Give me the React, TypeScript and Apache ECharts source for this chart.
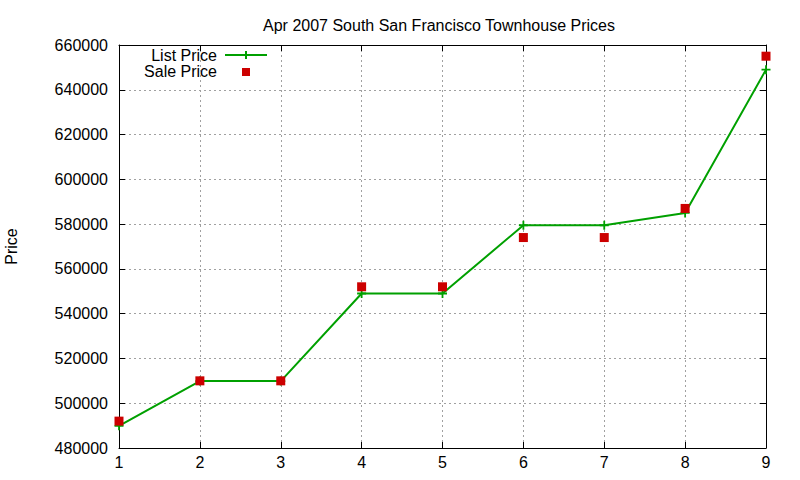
import { useEffect, useRef } from 'react';
import * as echarts from 'echarts';

// data
const houses = [1, 2, 3, 4, 5, 6, 7, 8, 9];
const listPrice = [489900, 509900, 509900, 549000, 549000, 579500, 579500, 585000, 649000];
const salePrice = [492000, 510000, 510000, 552000, 552000, 574000, 574000, 587000, 655000];

const TITLE = 'Apr 2007 South San Francisco Townhouse Prices';
const FONT = '"Liberation Sans", Arial, sans-serif';
const GREEN = '#00a000';
const RED = '#cc0000';

const PLUS = 'path://M4,0h2v4h4v2h-4v4h-2v-4h-4v-2h4z';

const gridLine = { show: true, lineStyle: { color: '#a0a0a0', type: [2, 3], width: 1 } };
const border = { show: true, onZero: false, lineStyle: { color: '#000', width: 1 } };
const ticksIn = { show: true, inside: true, length: 6, lineStyle: { color: '#000' } };

export default function App() {
  const chartRef = useRef<HTMLDivElement>(null);

  useEffect(() => {
    if (!chartRef.current) return;
    const chart = echarts.init(chartRef.current, null, { renderer: 'svg' });

    chart.setOption({
      animation: false,
      backgroundColor: '#fff',
      textStyle: { fontFamily: FONT },
      title: {
        text: TITLE,
        left: 434,
        top: 12,
        textAlign: 'center',
        textStyle: { fontSize: 16, fontWeight: 'normal', color: '#000', fontFamily: FONT },
      },
      grid: { left: 119, right: 34, top: 45, bottom: 32, outerBoundsMode: 'none' },
      xAxis: [
        {
          type: 'value',
          min: 1,
          max: 9,
          interval: 1,
          axisLine: border,
          axisTick: ticksIn,
          splitLine: gridLine,
          axisLabel: { color: '#000', fontSize: 16, margin: 6, fontFamily: FONT },
        },
        {
          type: 'value',
          position: 'top',
          min: 1,
          max: 9,
          interval: 1,
          axisLine: border,
          axisTick: ticksIn,
          splitLine: { show: false },
          axisLabel: { show: false },
        },
      ],
      yAxis: [
        {
          type: 'value',
          min: 480000,
          max: 660000,
          interval: 20000,
          name: 'Price',
          nameLocation: 'middle',
          nameGap: 100,
          nameTextStyle: { color: '#000', fontSize: 16, fontFamily: FONT },
          axisLine: border,
          axisTick: ticksIn,
          splitLine: gridLine,
          axisLabel: {
            color: '#000',
            fontSize: 16,
            margin: 11,
            fontFamily: FONT,
            formatter: (v: number) => String(v),
          },
        },
        {
          type: 'value',
          position: 'right',
          min: 480000,
          max: 660000,
          interval: 20000,
          axisLine: border,
          axisTick: ticksIn,
          splitLine: { show: false },
          axisLabel: { show: false },
        },
      ],
      graphic: [
        {
          type: 'text',
          x: 217,
          y: 55,
          style: { text: 'List Price', fill: '#000', font: `16px ${FONT}`, align: 'right', verticalAlign: 'middle' },
        },
        {
          type: 'line',
          shape: { x1: 225, y1: 55, x2: 267, y2: 55 },
          style: { stroke: GREEN, lineWidth: 2 },
        },
        {
          type: 'line',
          shape: { x1: 246, y1: 51, x2: 246, y2: 59 },
          style: { stroke: GREEN, lineWidth: 2 },
        },
        {
          type: 'text',
          x: 217,
          y: 71,
          style: { text: 'Sale Price', fill: '#000', font: `16px ${FONT}`, align: 'right', verticalAlign: 'middle' },
        },
        {
          type: 'rect',
          shape: { x: 242, y: 68, width: 8, height: 8 },
          style: { fill: RED },
        },
      ],
      series: [
        {
          name: 'List Price',
          type: 'line',
          data: houses.map((h, i) => [h, listPrice[i]]),
          symbol: PLUS,
          symbolSize: 9,
          showAllSymbol: true,
          lineStyle: { color: GREEN, width: 2 },
          itemStyle: { color: GREEN, opacity: 1 },
          z: 2,
        },
        {
          name: 'Sale Price',
          type: 'scatter',
          data: houses.map((h, i) => [h, salePrice[i]]),
          symbol: 'rect',
          symbolSize: 9,
          itemStyle: { color: RED, opacity: 1 },
          z: 3,
        },
      ],
    });

    return () => chart.dispose();
  }, []);

  return (
    <div
      ref={chartRef}
      style={{ position: 'absolute', left: 0, top: 0, width: 800, height: 480 }}
    />
  );
}
